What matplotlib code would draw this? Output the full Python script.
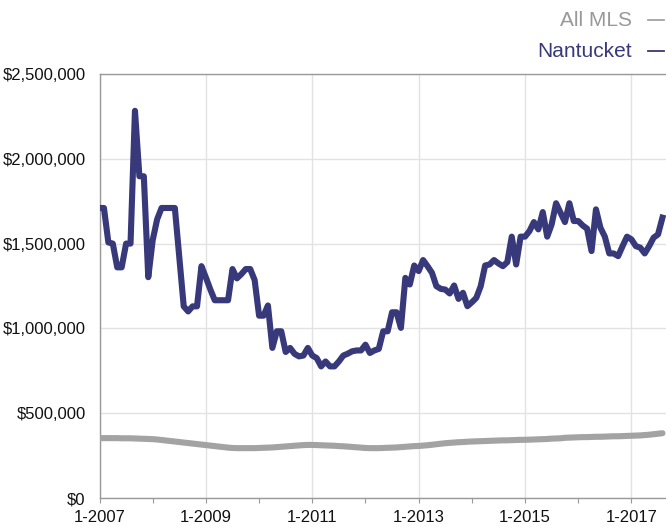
import numpy as np
from matplotlib import pyplot as plt
from matplotlib.lines import Line2D

plt.rcParams['font.family'] = ['Liberation Sans', 'DejaVu Sans']

# monthly median sale price, Jan 2007 .. Aug 2017 (values in $1,000)
nantucket = [
    1710, 1710, 1507, 1500, 1360, 1360, 1500, 1500, 2283, 1897, 1897, 1302,
    1520, 1643, 1710, 1710, 1710, 1710, 1420, 1130, 1100, 1130, 1130, 1367,
    1300, 1230, 1166, 1166, 1166, 1166, 1350, 1295, 1320, 1350, 1350, 1285,
    1075, 1075, 1135, 885, 983, 983, 861, 885, 850, 835, 840, 885,
    840, 825, 776, 805, 776, 776, 805, 840, 851, 865, 870, 870,
    904, 855, 870, 879, 983, 983, 1095, 1095, 1003, 1298, 1259, 1371,
    1338, 1403, 1367, 1328, 1249, 1233, 1229, 1206, 1253, 1174, 1210, 1131,
    1154, 1180, 1249, 1371, 1377, 1403, 1383, 1367, 1391, 1541, 1377, 1541,
    1541, 1574, 1627, 1584, 1686, 1541, 1613, 1738, 1683, 1627, 1738, 1633,
    1633, 1607, 1588, 1456, 1702, 1594, 1541, 1442, 1442, 1426, 1485, 1541,
    1525, 1485, 1476, 1442, 1485, 1535, 1554, 1653,
]
all_mls = [
    353, 353, 353, 353, 353, 352, 352, 352, 351, 350, 349, 348,
    347, 345, 342, 339, 336, 333, 330, 327, 324, 321, 318, 315,
    312, 309, 306, 303, 300, 297, 295, 294, 294, 294, 294, 294,
    295, 296, 297, 298, 300, 302, 304, 306, 308, 310, 312, 313,
    313, 312, 311, 310, 309, 308, 306, 305, 303, 301, 299, 297,
    295, 294, 294, 294, 295, 296, 297, 298, 300, 302, 304, 306,
    307, 309, 311, 314, 317, 320, 323, 325, 327, 329, 330, 332,
    333, 334, 335, 336, 337, 338, 339, 340, 340, 341, 342, 343,
    343, 344, 345, 346, 347, 348, 350, 351, 352, 355, 356, 357,
    358, 359, 359, 360, 361, 361, 362, 363, 364, 364, 365, 366,
    367, 368, 369, 371, 373, 376, 379, 382,
]
years = list(range(2007, 2018))
series_names = ['All MLS', 'Nantucket']

navy = '#38397a'
grey = '#a3a3a3'

months = np.arange(len(nantucket))

fig = plt.figure(figsize=(6.66, 5.27), dpi=100)
ax = fig.add_axes([99.5 / 666, 29 / 527, 566.5 / 666, 424 / 527])

ax.plot(months, np.array(all_mls) * 1000, color=grey, lw=4.4, solid_capstyle='round', zorder=3)
ax.plot(months, np.array(nantucket) * 1000, color=navy, lw=4.4, solid_joinstyle='round', zorder=4)

ax.set_xlim(0, 127.8)
ax.set_ylim(0, 2500000)

# x axis: tick every year, label + gridline every other year
ax.set_xticks([12 * (y - 2007) for y in years if (y - 2007) % 2 == 0])
ax.set_xticklabels([f'1-{y}' for y in years if (y - 2007) % 2 == 0])
ax.set_xticks([12 * (y - 2007) for y in years if (y - 2007) % 2 == 1], minor=True)
ax.set_yticks(np.arange(0, 2500001, 500000))
ax.yaxis.set_major_formatter(lambda v, pos: f'${v:,.0f}')

ax.tick_params(axis='x', which='both', length=3.5, width=0.8, color='#999999',
               labelsize=12, pad=5, labelcolor='#111111')
ax.tick_params(axis='y', length=0, labelsize=12, pad=10, labelcolor='#111111')

ax.grid(True, which='major', color='#e2e2e2', lw=1.0, zorder=0)
ax.set_axisbelow(True)

for side in ['left', 'bottom', 'top']:
    ax.spines[side].set_color('#999999')
    ax.spines[side].set_linewidth(1.0)
ax.spines['right'].set_visible(False)

# legend top right
legend_items = [(series_names[0], grey, '#999999', 26), (series_names[1], navy, navy, 57)]
for name, line_c, text_c, base_y in legend_items:
    fig.text(632 / 666, 1 - base_y / 527, name, ha='right', va='baseline',
             fontsize=15, color=text_c)
    yy = 1 - (base_y - 6) / 527
    fig.add_artist(Line2D([648 / 666, 664 / 666], [yy, yy], color=line_c, lw=1.3,
                          transform=fig.transFigure))

fig.savefig('out.png', dpi=100)
